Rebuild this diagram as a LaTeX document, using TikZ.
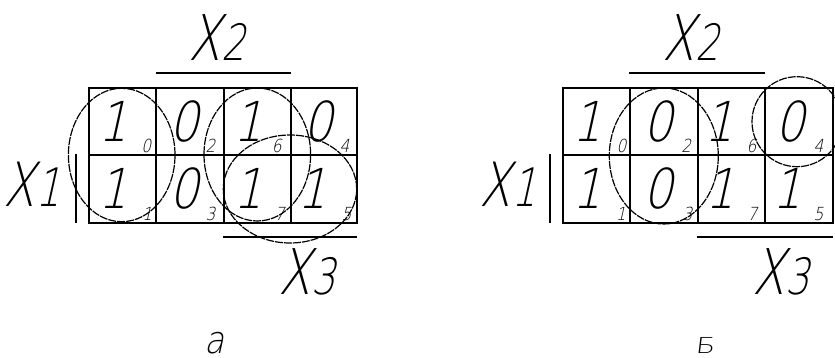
\documentclass[tikz,border=0pt]{standalone}
\usepackage{fontspec}
\IfFontExistsTF{DejaVu Sans ExtraLight}
 {\newfontfamily\cad{DejaVu Sans ExtraLight}[FakeSlant=0.22,FakeStretch=0.85]
  \newfontfamily\cadl{DejaVu Sans ExtraLight}[FakeSlant=0.22,FakeStretch=0.75]
  \newfontfamily\cadw{DejaVu Sans ExtraLight}[FakeSlant=0.12,FakeStretch=1.3]}
 {\newfontfamily\cad{DejaVu Sans}[FakeSlant=0.22,FakeStretch=0.85]
  \newfontfamily\cadl{DejaVu Sans}[FakeSlant=0.22,FakeStretch=0.75]
  \newfontfamily\cadw{DejaVu Sans}[FakeSlant=0.12,FakeStretch=1.3]}
\begin{document}
\begin{tikzpicture}[x=1pt,y=-1pt,
  gridline/.style={line width=1.8pt},
  ring/.style={line width=1.2pt,dash pattern=on 8pt off 1pt},
  big/.style={font=\cad\fontsize{55}{55}\selectfont,inner sep=0pt,anchor=base},
  idx/.style={font=\cad\fontsize{18}{18}\selectfont,inner sep=0pt,anchor=base},
  lbl/.style={font=\cadl\fontsize{52}{52}\selectfont,inner sep=0pt,anchor=base}]
\fill[white] (0,0) rectangle (835,358);
\useasboundingbox (0,0) rectangle (835,358);
% ---------- left map (a) ----------
\draw[gridline] (88.7,88) rectangle (357,222.7);
\draw[gridline] (88.7,155.3) -- (357,155.3);
\foreach \x in {156.3,224,291.3} \draw[gridline] (\x,88) -- (\x,222.7);
\draw[gridline] (156,73.3) -- (291,73.3);
\draw[gridline] (76.3,154) -- (76.3,222.7);
\draw[gridline] (222.7,237) -- (357,237);
\node[big] (La0) at (113.5,142) {1};
\node[big] (La2) at (184.2,142) {0};
\node[big] (La6) at (248.7,142) {1};
\node[big] (La4) at (318.2,142) {0};
\node[big] (La1) at (113.5,209) {1};
\node[big] (La3) at (184.2,209) {0};
\node[big] (La7) at (248.7,209) {1};
\node[big] (La5) at (312.2,209) {1};
\node[idx] (Li0) at (146.3,153) {0};
\node[idx] (Li2) at (210.5,153) {2};
\node[idx] (Li6) at (276.8,153) {6};
\node[idx] (Li4) at (344.5,153) {4};
\node[idx] (Li1) at (147.3,220) {1};
\node[idx] (Li3) at (210.5,220) {3};
\node[idx] (Li7) at (279.8,220) {7};
\node[idx] (Li5) at (346.5,220) {5};
\node[lbl] (LX2) at (217,61) {\fontsize{63}{63}\selectfont X\fontsize{50}{50}\selectfont 2};
\node[lbl] (LX1) at (32,207) {\fontsize{61}{61}\selectfont X\fontsize{53}{53}\selectfont 1};
\node[lbl] (LX3) at (307,294) {\fontsize{63}{63}\selectfont X\fontsize{50}{50}\selectfont 3};
\draw[ring] (121.7,155) ellipse [x radius=53.3pt,y radius=66.7pt];
\draw[ring] (257.3,154.5) ellipse [x radius=53.3pt,y radius=66.5pt];
\draw[ring] (290,189) ellipse [x radius=66.7pt,y radius=54pt];
\node[font=\cad\fontsize{38}{38}\selectfont,inner sep=0pt,anchor=base,text depth=0pt] (La) at (214,353) {а};
% ---------- right map (б) ----------
\draw[gridline] (562.7,88) rectangle (832.7,222.7);
\draw[gridline] (562.7,155.3) -- (832.7,155.3);
\foreach \x in {630.2,697.7,765.2} \draw[gridline] (\x,88) -- (\x,222.7);
\draw[gridline] (629,73.3) -- (765,73.3);
\draw[gridline] (550,154) -- (550,222.7);
\draw[gridline] (696.7,237) -- (832.7,237);
\node[big] (Ra0) at (587.5,142) {1};
\node[big] (Ra2) at (658,142) {0};
\node[big] (Ra6) at (719.5,142) {1};
\node[big] (Ra4) at (790.5,142) {0};
\node[big] (Ra1) at (587.5,209) {1};
\node[big] (Ra3) at (658,209) {0};
\node[big] (Ra7) at (720.5,209) {1};
\node[big] (Ra5) at (787.5,209) {1};
\node[idx] (Ri0) at (621.5,153) {0};
\node[idx] (Ri2) at (686.2,153) {2};
\node[idx] (Ri6) at (751.5,153) {6};
\node[idx] (Ri4) at (818.5,153) {4};
\node[idx] (Ri1) at (621,220) {1};
\node[idx] (Ri3) at (687.5,220) {3};
\node[idx] (Ri7) at (752.5,220) {7};
\node[idx] (Ri5) at (818.5,220) {5};
\node[lbl] (RX2) at (691,61) {\fontsize{63}{63}\selectfont X\fontsize{50}{50}\selectfont 2};
\node[lbl] (RX1) at (508,207) {\fontsize{61}{61}\selectfont X\fontsize{53}{53}\selectfont 1};
\node[lbl] (RX3) at (781,294) {\fontsize{63}{63}\selectfont X\fontsize{50}{50}\selectfont 3};
\draw[ring] (663.8,156) ellipse [x radius=54.5pt,y radius=68pt];
\draw[ring] (797,121.7) circle [radius=45pt];
\node[font=\cadw\fontsize{22}{22}\selectfont,inner sep=0pt,anchor=base,text depth=0pt] (Rb) at (705,353) {Б};
\end{tikzpicture}
\end{document}
